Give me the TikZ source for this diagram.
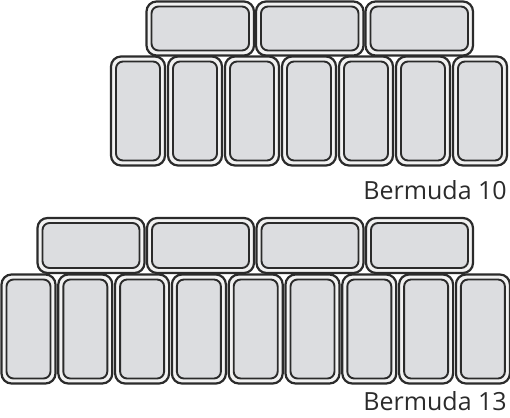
\documentclass[tikz,border=0pt]{standalone}
\usepackage{fontspec}
\setmainfont{Open Sans}
\definecolor{lineC}{HTML}{2B2B2B}
\definecolor{rimC}{HTML}{F2F2F2}
\definecolor{panC}{HTML}{DCDDE0}
\tikzset{
  rim/.style={draw=lineC, line width=2.2pt, fill=rimC, rounded corners=10pt},
  pan/.style={draw=lineC, line width=1.9pt, fill=panC, rounded corners=7pt},
  lbl/.style={font=\fontsize{25}{29}\selectfont, text=lineC, anchor=base east, inner sep=0pt}
}
\newcommand{\traybox}[4]{%
  \draw[rim] (#1,#2) rectangle ++(#3,#4);
  \draw[pan] (#1+5,#2+5) rectangle (#1+#3-5,#2+#4-5);
}
\begin{document}
\begin{tikzpicture}[x=1pt,y=-1pt]
\useasboundingbox (0,0) rectangle (510,417);
% Bermuda 10
\foreach \i in {0,1,2} { \traybox{146.5+109.5*\i}{1.5}{107.5}{54} }
\foreach \i in {0,...,6} { \traybox{111+57*\i}{56.5}{54}{109} }
\node[lbl] (b10) at (507,199) {Bermuda 10};
% Bermuda 13
\foreach \i in {0,...,3} { \traybox{37.5+109.5*\i}{218}{107}{55} }
\foreach \i in {0,...,8} { \traybox{1.5+56.8*\i}{274.5}{54}{109} }
\node[lbl] (b13) at (507,410) {Bermuda 13};
\end{tikzpicture}
\end{document}
